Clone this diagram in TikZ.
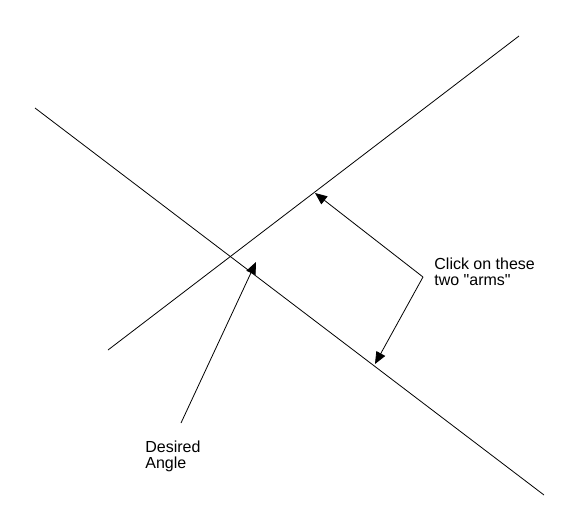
\documentclass[tikz,border=0pt]{standalone}
\usepackage{fontspec}
\setmainfont{Liberation Sans}
\usetikzlibrary{arrows.meta,positioning}

\begin{document}
\begin{tikzpicture}[x=1pt,y=-1pt,line width=0.8pt,
  note/.style={align=left,inner sep=0pt,font=\fontsize{16}{16}\selectfont},
  pointer/.style={-{Triangle[length=12pt,width=10pt]}}]
  \useasboundingbox (0,0) rectangle (579,531);
  % the two arms
  \coordinate (armAstart) at (35,108);
  \coordinate (armAend) at (544,495);
  \coordinate (armBstart) at (108,350);
  \coordinate (armBend) at (519,36);
  \draw (armAstart) -- (armAend);
  \draw (armBstart) -- (armBend);
  % labels
  \node[note,anchor=north west] (click) at (434,257) {Click on these\\two \textquotedbl arms\textquotedbl};
  \node[note,anchor=north west] (desired) at (145,440) {Desired\\Angle};
  % pointers
  \coordinate (elbow) at (423,277);
  \coordinate (tail) at (181,423);
  \coordinate (tipB) at (315,193);
  \coordinate (tipA) at (375,364);
  \coordinate (tipAngle) at (256,262);
  \draw[pointer] (elbow) -- (tipB);
  \draw[pointer] (elbow) -- (tipA);
  \draw[pointer] (tail) -- (tipAngle);
\end{tikzpicture}
\end{document}
